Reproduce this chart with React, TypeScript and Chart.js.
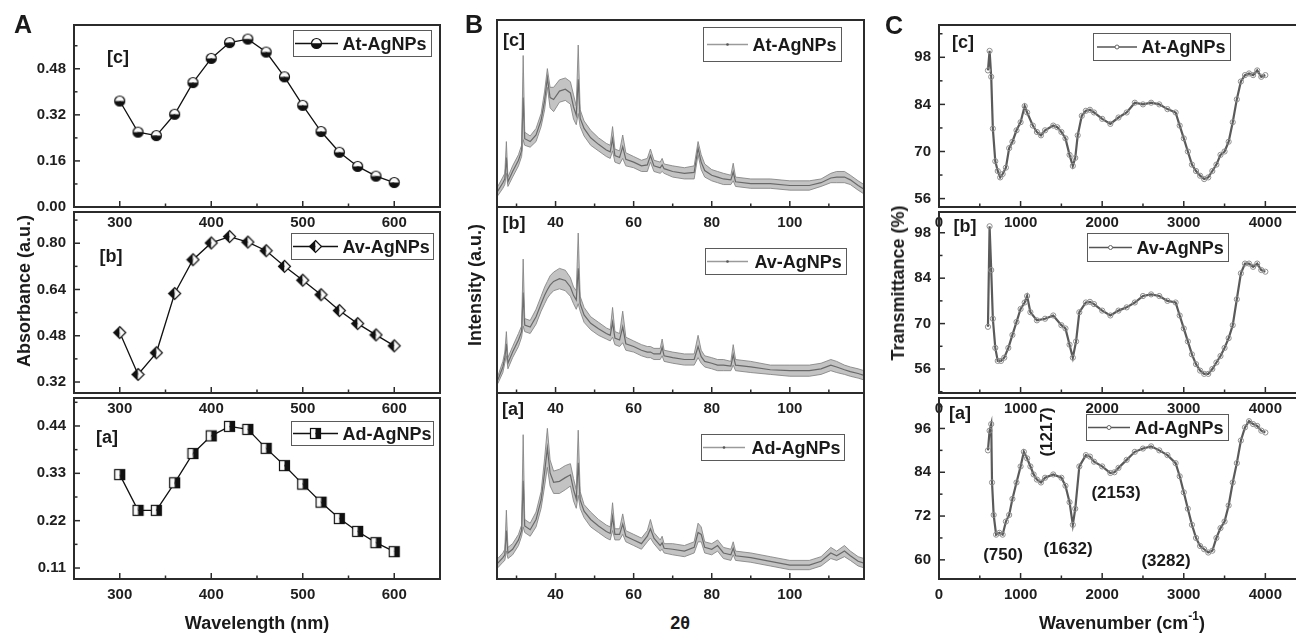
import React, { useEffect, useRef } from 'react';
import { Chart, registerables } from 'chart.js';

Chart.register(...registerables);

const FONT = "'Liberation Sans', Arial, Helvetica, sans-serif";

// ---------------- Panel A : UV-Vis absorbance ----------------
const wavelengthNm = [300, 320, 340, 360, 380, 400, 420, 440, 460, 480, 500, 520, 540, 560, 580, 600];
const atAbsorbance = [0.368, 0.26, 0.248, 0.322, 0.432, 0.516, 0.571, 0.583, 0.538, 0.452, 0.353, 0.262, 0.19, 0.141, 0.107, 0.085];
const avAbsorbance = [0.491, 0.346, 0.421, 0.626, 0.743, 0.801, 0.823, 0.804, 0.774, 0.72, 0.672, 0.622, 0.567, 0.522, 0.483, 0.445];
const adAbsorbance = [0.327, 0.244, 0.244, 0.308, 0.376, 0.417, 0.439, 0.432, 0.388, 0.348, 0.305, 0.263, 0.225, 0.195, 0.169, 0.148];
const wavelengthTicks = [300, 400, 500, 600];
const atAbsTicks = [0, 0.16, 0.32, 0.48];
const avAbsTicks = [0.32, 0.48, 0.64, 0.8];
const adAbsTicks = [0.11, 0.22, 0.33, 0.44];

// ---------------- Panel B : XRD (upper / lower edge of the noisy trace) ----------------
const twoTheta = [25.2, 26.5, 27.0, 27.4, 27.8, 29, 30.5, 31.3, 31.7, 32.1, 33.5, 35, 36.3, 37.2, 37.9, 38.6, 39.5, 41, 42.5, 43.8, 44.6, 45.3, 45.8, 46.3, 47.3, 49, 51, 53, 54.0, 54.6, 55.2, 56.4, 57.2, 58.0, 60, 62, 63.5, 64.3, 65.2, 66.8, 67.3, 67.8, 70, 73, 75.5, 76.5, 77.3, 78.2, 80, 81.5, 83, 84.9, 85.5, 86.1, 90, 95, 100, 105, 108, 110.5, 112, 114, 115.5, 117.5, 119];
const atXrdUpper = [11, 16, 18, 35, 16, 22, 28, 33, 81, 40, 38, 42, 50, 62, 74, 64, 64, 68, 69, 67, 60, 54, 86.6, 52, 46, 41, 37, 34, 33, 43, 31, 30, 38.5, 29, 27, 25, 26, 31, 25, 24, 26, 23, 22, 21, 22, 35, 28, 23, 20, 19, 18, 17, 23.4, 16, 15, 15, 14, 14, 15, 18, 19, 19, 17, 14, 12];
const atXrdLower = [6, 10, 12, 18, 11, 16, 22, 27, 36, 33, 32, 35, 43, 52, 64, 53, 51, 56, 57, 55, 47, 44, 50, 43, 38, 33, 30, 27, 26, 30, 24, 23, 26, 22, 21, 19, 19, 24, 19, 18, 19, 18, 16, 15, 15, 28, 20, 16, 14, 13, 12, 12, 14, 11, 10, 10, 9, 9, 11, 13, 13, 13, 12, 9, 7];
const avXrdUpper = [9, 17, 22, 33, 19, 25, 32, 36, 72, 40, 39, 45, 52, 57, 60, 63, 65, 67, 66, 62, 57, 55, 86, 52, 46, 41, 38, 35, 34, 46, 33, 32, 44, 30, 28, 26, 25, 25, 24, 24, 29, 23, 22, 21, 21, 31, 23, 20, 19, 18, 18, 17, 26, 18, 17, 15, 15, 15, 16, 18, 17, 15, 14, 13, 12];
const avXrdLower = [5, 11, 16, 20, 13, 19, 25, 30, 36, 33, 32, 37, 44, 48, 51, 53, 55, 56, 55, 52, 48, 45, 48, 44, 38, 34, 31, 29, 28, 30, 26, 25, 27, 23, 22, 20, 19, 19, 18, 18, 20, 17, 16, 15, 15, 19, 16, 14, 13, 12, 12, 12, 15, 12, 11, 10, 9, 9, 10, 12, 11, 10, 9, 8, 7];
const adXrdUpper = [11, 14, 16, 37, 17, 19, 24, 29, 77.6, 32, 30, 36, 47, 65, 81, 64, 58, 59, 61, 62, 54, 48, 80, 47, 40, 36, 32, 29, 28, 41, 27, 27, 35, 26, 24, 22, 26, 32, 25, 21, 23, 19, 19, 18, 20, 30, 28, 20, 19, 21, 17, 16, 20, 15, 14, 12, 10, 10, 12, 17, 15, 18, 15, 12, 11];
const adXrdLower = [6, 9, 10, 15, 11, 13, 18, 23, 28, 25, 23, 28, 38, 50, 60, 50, 46, 46, 48, 50, 42, 38, 45, 38, 33, 28, 25, 22, 21, 26, 21, 21, 24, 20, 18, 16, 20, 22, 19, 15, 16, 14, 13, 12, 14, 20, 20, 14, 13, 15, 11, 10, 13, 10, 9, 7, 5, 5, 7, 11, 10, 12, 10, 7, 6];
const twoThetaTicks = [40, 60, 80, 100];

// ---------------- Panel C : FTIR transmittance ----------------
const atWavenumber = [600, 620, 640, 660, 690, 720, 750, 780, 820, 860, 900, 950, 1000, 1050, 1080, 1150, 1200, 1250, 1300, 1400, 1450, 1500, 1550, 1600, 1640, 1670, 1700, 1750, 1800, 1850, 1900, 2000, 2100, 2200, 2300, 2400, 2500, 2600, 2700, 2800, 2900, 2950, 3000, 3050, 3100, 3150, 3200, 3250, 3300, 3350, 3400, 3450, 3500, 3550, 3600, 3650, 3700, 3750, 3800, 3850, 3900, 3950, 4000];
const atTransmittance = [94.1, 99.9, 92.2, 76.8, 67.1, 64.2, 62.3, 63.3, 65.2, 71, 72.9, 76.3, 78.7, 83.5, 81.6, 77.7, 75.8, 74.8, 76.3, 77.7, 77.2, 75.8, 73.9, 69, 65.7, 68.1, 74.8, 80.6, 82.1, 82.4, 81.6, 79.7, 78.2, 80.1, 81.6, 84.5, 84, 84.5, 84, 82.6, 81.6, 77.7, 73.9, 70, 66.1, 64.2, 62.8, 61.8, 62.3, 64.2, 66.1, 69, 70, 72.9, 78.7, 85.5, 90.8, 92.7, 93.2, 92.7, 94.1, 92.2, 92.7];
const avWavenumber = [600, 620, 640, 660, 690, 720, 760, 800, 850, 900, 950, 1000, 1050, 1080, 1120, 1200, 1300, 1400, 1500, 1550, 1600, 1640, 1680, 1720, 1800, 1850, 1900, 2000, 2100, 2200, 2300, 2400, 2500, 2600, 2700, 2800, 2900, 2950, 3000, 3050, 3100, 3150, 3200, 3250, 3300, 3350, 3400, 3450, 3500, 3550, 3600, 3650, 3700, 3750, 3800, 3850, 3900, 3950, 4000];
const avTransmittance = [69, 100, 86.5, 71.5, 62.5, 58.5, 58.5, 59.5, 62.5, 66.5, 70.5, 74.5, 76.5, 78.5, 73.5, 71, 71.5, 72.5, 69.5, 68.5, 63.5, 59.5, 64.5, 73.5, 76.5, 76.7, 76, 74, 72.5, 74, 75, 76.5, 78.5, 79, 78.5, 77, 76.5, 72.5, 68.5, 64.5, 60.5, 57.5, 55.5, 54.5, 54.5, 56, 58, 60, 62.5, 65.5, 69.5, 77.5, 85.5, 88.5, 88.5, 87.5, 88.5, 86.5, 86];
const adWavenumber = [600, 620, 640, 650, 670, 700, 740, 780, 820, 860, 900, 950, 1000, 1040, 1080, 1120, 1160, 1200, 1250, 1300, 1400, 1500, 1550, 1600, 1640, 1670, 1720, 1800, 1850, 1900, 2000, 2100, 2150, 2200, 2300, 2400, 2500, 2600, 2700, 2800, 2900, 2950, 3000, 3050, 3100, 3150, 3200, 3250, 3300, 3350, 3400, 3450, 3500, 3550, 3600, 3650, 3700, 3750, 3800, 3850, 3900, 3950, 4000];
const adTransmittance = [90, 95.4, 97.2, 81.2, 72.3, 66.9, 67.4, 66.9, 70.5, 72.3, 76.7, 81.2, 85.6, 89.6, 87.8, 85.6, 83.4, 82, 81.2, 82.5, 83.4, 82.5, 80.3, 75.8, 69.6, 74, 85.6, 88.7, 88.3, 86.9, 85.6, 83.8, 84, 85.2, 87.4, 89.6, 90.5, 91.1, 90, 88.7, 86.5, 82.9, 78.5, 74, 69.6, 66, 63.8, 62.9, 62, 62.5, 66, 68.7, 70.5, 74.9, 81.2, 86.5, 92.7, 96.3, 98, 97.2, 96.7, 95.4, 94.9];
const wavenumberTicks = [0, 1000, 2000, 3000, 4000];
const transTicksTop = [56, 70, 84, 98];
const transTicksMid = [56, 70, 84, 98];
const transTicksBottom = [60, 72, 84, 96];

// ---------------- layout ----------------
const PAD_L = 70;
const PAD_T = 12;
const PAD_R = 10;
const PAD_B = 30;
const ROWS = [
  { top: 20, height: 187 },
  { top: 207, height: 186 },
  { top: 393, height: 186 },
];
const COLS: Record<string, { left: number; width: number }> = {
  A: { left: 74, width: 366 },
  B: { left: 497, width: 367 },
  C: { left: 939, width: 359 },
};

const framePlugin = {
  id: 'frame',
  afterDraw(chart: any, _args: any, opts: any) {
    const { ctx, chartArea: a } = chart;
    ctx.save();
    ctx.strokeStyle = '#2b2b2b';
    ctx.lineWidth = 1.5;
    const seg = (x1: number, y1: number, x2: number, y2: number) => {
      ctx.beginPath();
      ctx.moveTo(x1, y1);
      ctx.lineTo(x2, y2);
      ctx.stroke();
    };
    const marks = (scale: any, horizontal: boolean) => {
      const vals = scale.ticks.map((t: any) => t.value);
      if (vals.length < 2) return;
      const step = vals[1] - vals[0];
      const minor = vals.map((v: number) => v - step / 2).concat([vals[vals.length - 1] + step / 2]);
      const draw = (v: number, len: number) => {
        const p = scale.getPixelForValue(v);
        if (horizontal) {
          if (p < a.left - 0.5 || p > a.right + 0.5) return;
          seg(p, a.bottom, p, a.bottom - len);
        } else {
          if (p < a.top - 0.5 || p > a.bottom + 0.5) return;
          seg(a.left, p, a.left + len, p);
        }
      };
      vals.forEach((v: number) => draw(v, 6));
      minor.forEach((v: number) => draw(v, 3.5));
    };
    if (opts.xMarks !== false) marks(chart.scales.x, true);
    if (opts.yMarks !== false) marks(chart.scales.y, false);
    ctx.lineWidth = 2;
    ctx.strokeRect(a.left, a.top, a.right - a.left, a.bottom - a.top);
    ctx.restore();
  },
};

function makeMarker(kind: string): HTMLCanvasElement {
  const c = document.createElement('canvas');
  const s = kind === 'diamond' ? 15 : 13;
  c.width = s;
  c.height = s;
  const g = c.getContext('2d')!;
  const m = s / 2;
  g.lineWidth = 1.2;
  g.strokeStyle = '#111';
  if (kind === 'circle') {
    const r = 5;
    g.fillStyle = '#fafafa';
    g.beginPath();
    g.arc(m, m, r, Math.PI, 2 * Math.PI);
    g.closePath();
    g.fill();
    g.fillStyle = '#111';
    g.beginPath();
    g.arc(m, m, r, 0, Math.PI);
    g.closePath();
    g.fill();
    g.beginPath();
    g.arc(m, m, r, 0, 2 * Math.PI);
    g.stroke();
  } else if (kind === 'diamond') {
    const r = 6;
    g.fillStyle = '#111';
    g.beginPath();
    g.moveTo(m, m - r);
    g.lineTo(m - r, m);
    g.lineTo(m, m + r);
    g.closePath();
    g.fill();
    g.fillStyle = '#fafafa';
    g.beginPath();
    g.moveTo(m, m - r);
    g.lineTo(m + r, m);
    g.lineTo(m, m + r);
    g.closePath();
    g.fill();
    g.beginPath();
    g.moveTo(m, m - r);
    g.lineTo(m + r, m);
    g.lineTo(m, m + r);
    g.lineTo(m - r, m);
    g.closePath();
    g.stroke();
  } else {
    const r = 5;
    g.fillStyle = '#fafafa';
    g.fillRect(m - r, m - r, r, 2 * r);
    g.fillStyle = '#111';
    g.fillRect(m, m - r, r, 2 * r);
    g.strokeRect(m - r, m - r, 2 * r, 2 * r);
  }
  return c;
}

const pairs = (xs: number[], ys: number[]) => xs.map((x, i) => ({ x, y: ys[i] }));

function uvDataset(ys: number[], kind: string) {
  return [
    {
      data: pairs(wavelengthNm, ys),
      borderColor: '#111',
      borderWidth: 1.3,
      pointStyle: makeMarker(kind),
      pointRadius: 6,
      tension: 0,
    },
  ];
}

function xrdDataset(upper: number[], lower: number[]) {
  // trace core: midpoint of the read band edges
  const core = upper.map((u, i) => (u + lower[i]) / 2);
  return [
    {
      data: pairs(twoTheta, upper),
      borderColor: 'rgba(130,130,130,0.85)',
      borderWidth: 1,
      pointRadius: 0,
      fill: false,
    },
    {
      data: pairs(twoTheta, lower),
      borderColor: 'rgba(130,130,130,0.85)',
      borderWidth: 1,
      pointRadius: 0,
      fill: '-1',
      backgroundColor: 'rgba(135,135,135,0.5)',
    },
    {
      data: pairs(twoTheta, core),
      borderColor: 'rgba(55,55,55,0.9)',
      borderWidth: 1.2,
      pointRadius: 0,
      fill: false,
    },
  ];
}

function ftirDataset(xs: number[], ys: number[]) {
  return [
    {
      data: pairs(xs, ys),
      borderColor: '#5a5a5a',
      borderWidth: 2.2,
      pointRadius: 2.6,
      pointStyle: 'circle',
      pointBorderColor: '#8e8e8e',
      pointBorderWidth: 1,
      pointBackgroundColor: 'rgba(255,255,255,0)',
    },
  ];
}

type PanelProps = {
  col: string;
  row: number;
  xMin: number;
  xMax: number;
  yMin: number;
  yMax: number;
  xTicks: number[];
  yTicks: number[] | null;
  yDecimals?: number;
  makeDatasets: () => any[];
};

function ChartPanel(p: PanelProps) {
  const ref = useRef<HTMLCanvasElement>(null);
  const { left, width } = COLS[p.col];
  const { top, height } = ROWS[p.row];
  const W = PAD_L + width + PAD_R;
  const H = PAD_T + height + PAD_B;
  useEffect(() => {
    const tickFont = { family: FONT, size: 15, weight: 'bold' as const };
    const chart = new Chart(ref.current!, {
      type: 'line',
      data: { datasets: p.makeDatasets() },
      options: {
        responsive: false,
        maintainAspectRatio: false,
        animation: false,
        events: [],
        layout: { padding: { left: 0, top: PAD_T, right: PAD_R, bottom: 0 } },
        plugins: {
          legend: { display: false },
          tooltip: { enabled: false },
          frame: { xMarks: true, yMarks: !!p.yTicks },
        } as any,
        scales: {
          x: {
            type: 'linear',
            min: p.xMin,
            max: p.xMax,
            grid: { display: false, drawTicks: false },
            border: { display: false },
            afterBuildTicks: (s: any) => {
              s.ticks = p.xTicks.map((v) => ({ value: v }));
            },
            afterFit: (s: any) => {
              s.height = PAD_B;
            },
            ticks: {
              autoSkip: false,
              maxRotation: 0,
              padding: 7,
              color: '#1e1e1e',
              font: tickFont,
              callback: (v: any) => String(v),
            },
          },
          y: {
            type: 'linear',
            min: p.yMin,
            max: p.yMax,
            grid: { display: false, drawTicks: false },
            border: { display: false },
            afterBuildTicks: (s: any) => {
              if (p.yTicks) s.ticks = p.yTicks.map((v) => ({ value: v }));
            },
            afterFit: (s: any) => {
              s.width = PAD_L;
            },
            ticks: {
              display: !!p.yTicks,
              autoSkip: false,
              padding: 8,
              color: '#1e1e1e',
              font: tickFont,
              callback: (v: any) =>
                p.yDecimals ? Number(v).toFixed(p.yDecimals) : String(v),
            },
          },
        },
      } as any,
      plugins: [framePlugin],
    });
    return () => chart.destroy();
  }, []);
  return (
    <canvas
      ref={ref}
      width={W}
      height={H}
      style={{ position: 'absolute', left: left - PAD_L, top: top - PAD_T, width: W, height: H }}
    />
  );
}

function Txt(props: { x: number; y: number; size: number; rotate?: boolean; children: any }) {
  return (
    <div
      style={{
        position: 'absolute',
        left: props.x,
        top: props.y,
        transform: `translate(-50%,-50%)${props.rotate ? ' rotate(-90deg)' : ''}`,
        fontFamily: FONT,
        fontWeight: 700,
        fontSize: props.size,
        lineHeight: 1,
        whiteSpace: 'nowrap',
        color: '#1a1a1a',
      }}
    >
      {props.children}
    </div>
  );
}

function Symbol({ kind }: { kind: string }) {
  if (kind === 'circle')
    return (
      <g>
        <path d="M -5 0 A 5 5 0 0 1 5 0 Z" fill="#fafafa" />
        <path d="M -5 0 A 5 5 0 0 0 5 0 Z" fill="#111" />
        <circle r={5} fill="none" stroke="#111" strokeWidth={1.2} />
      </g>
    );
  if (kind === 'diamond')
    return (
      <g>
        <polygon points="0,-6 -6,0 0,6" fill="#111" />
        <polygon points="0,-6 6,0 0,6" fill="#fafafa" />
        <polygon points="0,-6 6,0 0,6 -6,0" fill="none" stroke="#111" strokeWidth={1.2} />
      </g>
    );
  if (kind === 'square')
    return (
      <g>
        <rect x={-5} y={-5} width={5} height={10} fill="#fafafa" />
        <rect x={0} y={-5} width={5} height={10} fill="#111" />
        <rect x={-5} y={-5} width={10} height={10} fill="none" stroke="#111" strokeWidth={1.2} />
      </g>
    );
  if (kind === 'ring') return <circle r={2} fill="#fff" stroke="#666" strokeWidth={1} />;
  return <circle r={1.3} fill="#555" />;
}

function LegendBox(props: {
  left: number;
  top: number;
  width: number;
  height: number;
  lineFrom: number;
  lineTo: number;
  textLeft: number;
  kind: string;
  lineColor: string;
  label: string;
}) {
  const { left, top, width, height } = props;
  const cy = height / 2;
  const mid = (props.lineFrom + props.lineTo) / 2 - left;
  return (
    <div
      style={{
        position: 'absolute',
        left,
        top,
        width,
        height,
        boxSizing: 'border-box',
        border: '1.5px solid #5a5a5a',
        background: 'transparent',
      }}
    >
      <svg
        width={width}
        height={height}
        style={{ position: 'absolute', left: -1.5, top: -1.5, overflow: 'visible' }}
      >
        <line
          x1={props.lineFrom - left}
          x2={props.lineTo - left}
          y1={cy}
          y2={cy}
          stroke={props.lineColor}
          strokeWidth={1.4}
        />
        <g transform={`translate(${mid},${cy})`}>
          <Symbol kind={props.kind} />
        </g>
      </svg>
      <div
        style={{
          position: 'absolute',
          left: props.textLeft - left - 1.5,
          top: '50%',
          transform: 'translateY(-50%)',
          fontFamily: FONT,
          fontWeight: 700,
          fontSize: 18,
          lineHeight: 1,
          whiteSpace: 'nowrap',
          color: '#1a1a1a',
        }}
      >
        {props.label}
      </div>
    </div>
  );
}

export default function App() {
  return (
    <div
      style={{
        position: 'fixed',
        left: 0,
        top: 0,
        width: 1296,
        height: 634,
        overflow: 'hidden',
        background: '#fff',
      }}
    >
      {/* Panel A */}
      <ChartPanel col="A" row={0} xMin={250} xMax={650} yMin={0} yMax={0.632} xTicks={wavelengthTicks} yTicks={atAbsTicks} yDecimals={2} makeDatasets={() => uvDataset(atAbsorbance, 'circle')} />
      <ChartPanel col="A" row={1} xMin={250} xMax={650} yMin={0.282} yMax={0.908} xTicks={wavelengthTicks} yTicks={avAbsTicks} yDecimals={2} makeDatasets={() => uvDataset(avAbsorbance, 'diamond')} />
      <ChartPanel col="A" row={2} xMin={250} xMax={650} yMin={0.0845} yMax={0.505} xTicks={wavelengthTicks} yTicks={adAbsTicks} yDecimals={2} makeDatasets={() => uvDataset(adAbsorbance, 'square')} />

      {/* Panel B */}
      <ChartPanel col="B" row={0} xMin={25} xMax={119} yMin={0} yMax={100} xTicks={twoThetaTicks} yTicks={null} makeDatasets={() => xrdDataset(atXrdUpper, atXrdLower)} />
      <ChartPanel col="B" row={1} xMin={25} xMax={119} yMin={0} yMax={100} xTicks={twoThetaTicks} yTicks={null} makeDatasets={() => xrdDataset(avXrdUpper, avXrdLower)} />
      <ChartPanel col="B" row={2} xMin={25} xMax={119} yMin={0} yMax={100} xTicks={twoThetaTicks} yTicks={null} makeDatasets={() => xrdDataset(adXrdUpper, adXrdLower)} />

      {/* Panel C */}
      <ChartPanel col="C" row={0} xMin={0} xMax={4400} yMin={53.5} yMax={107.6} xTicks={wavenumberTicks} yTicks={transTicksTop} makeDatasets={() => ftirDataset(atWavenumber, atTransmittance)} />
      <ChartPanel col="C" row={1} xMin={0} xMax={4400} yMin={48.6} yMax={104.4} xTicks={wavenumberTicks} yTicks={transTicksMid} makeDatasets={() => ftirDataset(avWavenumber, avTransmittance)} />
      <ChartPanel col="C" row={2} xMin={0} xMax={4400} yMin={54.75} yMax={104.35} xTicks={wavenumberTicks} yTicks={transTicksBottom} makeDatasets={() => ftirDataset(adWavenumber, adTransmittance)} />

      {/* panel letters */}
      <Txt x={23} y={24} size={25}>A</Txt>
      <Txt x={474} y={24} size={25}>B</Txt>
      <Txt x={894} y={25} size={25}>C</Txt>

      {/* sub-plot tags */}
      <Txt x={118} y={57} size={18}>[c]</Txt>
      <Txt x={111} y={256} size={18}>[b]</Txt>
      <Txt x={107} y={437} size={18}>[a]</Txt>
      <Txt x={514} y={40} size={18}>[c]</Txt>
      <Txt x={514} y={223} size={18}>[b]</Txt>
      <Txt x={513} y={409} size={18}>[a]</Txt>
      <Txt x={963} y={42} size={18}>[c]</Txt>
      <Txt x={965} y={226} size={18}>[b]</Txt>
      <Txt x={960} y={413} size={18}>[a]</Txt>

      {/* axis titles */}
      <Txt x={24} y={291} size={18} rotate>Absorbance (a.u.)</Txt>
      <Txt x={475} y={285} size={18} rotate>Intensity (a.u.)</Txt>
      <Txt x={898} y={283} size={18} rotate>Transmittance (%)</Txt>
      <Txt x={257} y={623} size={18}>Wavelength (nm)</Txt>
      <Txt x={680} y={623} size={18}>2θ</Txt>
      <Txt x={1122} y={623} size={18}>
        Wavenumber (cm<sup style={{ fontSize: 12, verticalAlign: 'top', position: 'relative', top: -4 }}>-1</sup>)
      </Txt>

      {/* FTIR band annotations */}
      <Txt x={1046} y={432} size={17} rotate>(1217)</Txt>
      <Txt x={1003} y={554} size={17}>(750)</Txt>
      <Txt x={1068} y={548} size={17}>(1632)</Txt>
      <Txt x={1116} y={492} size={17}>(2153)</Txt>
      <Txt x={1166} y={560} size={17}>(3282)</Txt>

      {/* legends */}
      <LegendBox left={293} top={30} width={139} height={27} lineFrom={295} lineTo={338} textLeft={343} kind="circle" lineColor="#111" label="At-AgNPs" />
      <LegendBox left={291} top={233} width={143} height={27} lineFrom={293} lineTo={338} textLeft={343} kind="diamond" lineColor="#111" label="Av-AgNPs" />
      <LegendBox left={291} top={421} width={143} height={25} lineFrom={293} lineTo={338} textLeft={343} kind="square" lineColor="#111" label="Ad-AgNPs" />

      <LegendBox left={703} top={27} width={139} height={35} lineFrom={707} lineTo={748} textLeft={753} kind="dot" lineColor="#9a9a9a" label="At-AgNPs" />
      <LegendBox left={705} top={248} width={142} height={27} lineFrom={707} lineTo={748} textLeft={755} kind="dot" lineColor="#9a9a9a" label="Av-AgNPs" />
      <LegendBox left={701} top={434} width={144} height={27} lineFrom={703} lineTo={745} textLeft={752} kind="dot" lineColor="#9a9a9a" label="Ad-AgNPs" />

      <LegendBox left={1093} top={33} width={138} height={28} lineFrom={1097} lineTo={1137} textLeft={1142} kind="ring" lineColor="#555" label="At-AgNPs" />
      <LegendBox left={1087} top={233} width={142} height={29} lineFrom={1089} lineTo={1132} textLeft={1137} kind="ring" lineColor="#555" label="Av-AgNPs" />
      <LegendBox left={1086} top={414} width={143} height={27} lineFrom={1088} lineTo={1130} textLeft={1135} kind="ring" lineColor="#555" label="Ad-AgNPs" />
    </div>
  );
}
